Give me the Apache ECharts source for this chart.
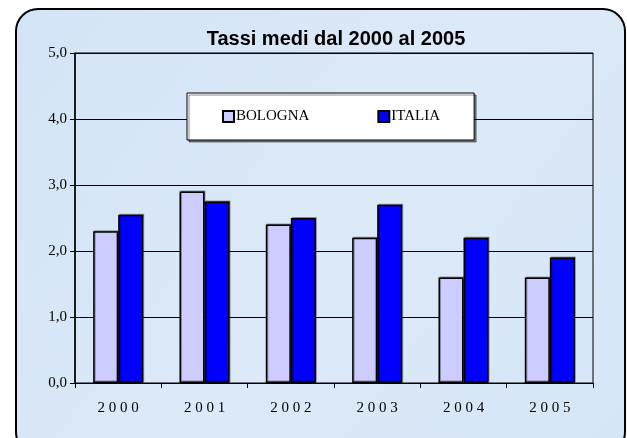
<!DOCTYPE html>
<html>
<head>
<meta charset="utf-8">
<script src="https://cdn.jsdelivr.net/npm/echarts@6/dist/echarts.min.js"></script>
<style>
  html, body { margin: 0; padding: 0; background: #fff; }
  #container { width: 627px; height: 438px; }
</style>
</head>
<body>
<div id="container"></div>
<script>
var years = ['2000', '2001', '2002', '2003', '2004', '2005'];
var bologna = [2.3, 2.9, 2.4, 2.2, 1.6, 1.6];
var italia = [2.55, 2.75, 2.5, 2.7, 2.2, 1.9];
var yTicks = { min: 0, max: 5, interval: 1 };

var dom = document.getElementById('container');
var myChart = echarts.init(dom, null, { renderer: 'canvas' });

var serif = '"Liberation Serif", "DejaVu Serif", serif';

var option = {
    animation: false,
    graphic: [
        {
            type: 'rect',
            z: -10,
            silent: true,
            shape: { x: 16, y: 9, width: 609, height: 445, r: 22 },
            style: {
                fill: new echarts.graphic.LinearGradient(0, 0, 1, 1, [
                    { offset: 0, color: '#d3e4f6' },
                    { offset: 0.5, color: '#dce9f8' },
                    { offset: 1, color: '#d6e6f7' }
                ]),
                stroke: '#000',
                lineWidth: 2
            }
        }
    ],
    title: {
        text: 'Tassi medi dal 2000 al 2005',
        left: 331,
        textAlign: 'center',
        top: 24,
        textStyle: {
            fontFamily: 'Arial, "Liberation Sans", sans-serif',
            fontWeight: 'bold',
            fontSize: 20,
            color: '#000'
        }
    },
    legend: {
        left: 187,
        top: 93,
        padding: [16, 34, 16, 35],
        itemGap: 68,
        itemWidth: 11,
        itemHeight: 11,
        icon: 'rect',
        backgroundColor: '#fff',
        borderColor: '#000',
        borderWidth: 1,
        shadowColor: 'rgba(0,0,0,0.45)',
        shadowOffsetX: 2,
        shadowOffsetY: 2,
        textStyle: { fontFamily: serif, fontSize: 15, color: '#000', padding: [0, 0, 0, -3] },
        data: ['BOLOGNA', 'ITALIA']
    },
    grid: {
        left: 75,
        right: 34,
        top: 53,
        bottom: 55,
        show: true,
        borderColor: '#000',
        borderWidth: 1,
        backgroundColor: 'transparent'
    },
    xAxis: {
        type: 'category',
        data: years,
        axisLine: { lineStyle: { color: '#000', width: 1 } },
        axisTick: { show: true, length: 5, lineStyle: { color: '#000' } },
        axisLabel: {
            margin: 18,
            fontFamily: serif,
            fontSize: 15,
            color: '#000',
            formatter: function (v) { return v.split('').join(' '); }
        }
    },
    yAxis: {
        type: 'value',
        min: yTicks.min,
        max: yTicks.max,
        interval: yTicks.interval,
        axisLine: { show: true, lineStyle: { color: '#000', width: 1.5 } },
        axisTick: { show: true, length: 5, lineStyle: { color: '#000' } },
        splitLine: { lineStyle: { color: '#000', width: 1 } },
        axisLabel: {
            margin: 8,
            fontFamily: serif,
            fontSize: 15,
            color: '#000',
            formatter: function (v) { return v.toFixed(1).replace('.', ','); }
        }
    },
    series: [
        {
            name: 'BOLOGNA',
            type: 'bar',
            data: bologna,
            barGap: '0%',
            barCategoryGap: '42%',
            itemStyle: {
                color: '#ccccff',
                borderColor: '#000',
                borderWidth: 1.5,
                shadowColor: 'rgba(0,0,0,0.35)',
                shadowOffsetX: 1,
                shadowOffsetY: -1
            }
        },
        {
            name: 'ITALIA',
            type: 'bar',
            data: italia,
            itemStyle: {
                color: '#0000ff',
                borderColor: '#000',
                borderWidth: 1.5,
                shadowColor: 'rgba(0,0,0,0.35)',
                shadowOffsetX: 1,
                shadowOffsetY: -1
            }
        }
    ]
};

myChart.setOption(option);
window.addEventListener('resize', myChart.resize);
</script>
</body>
</html>
